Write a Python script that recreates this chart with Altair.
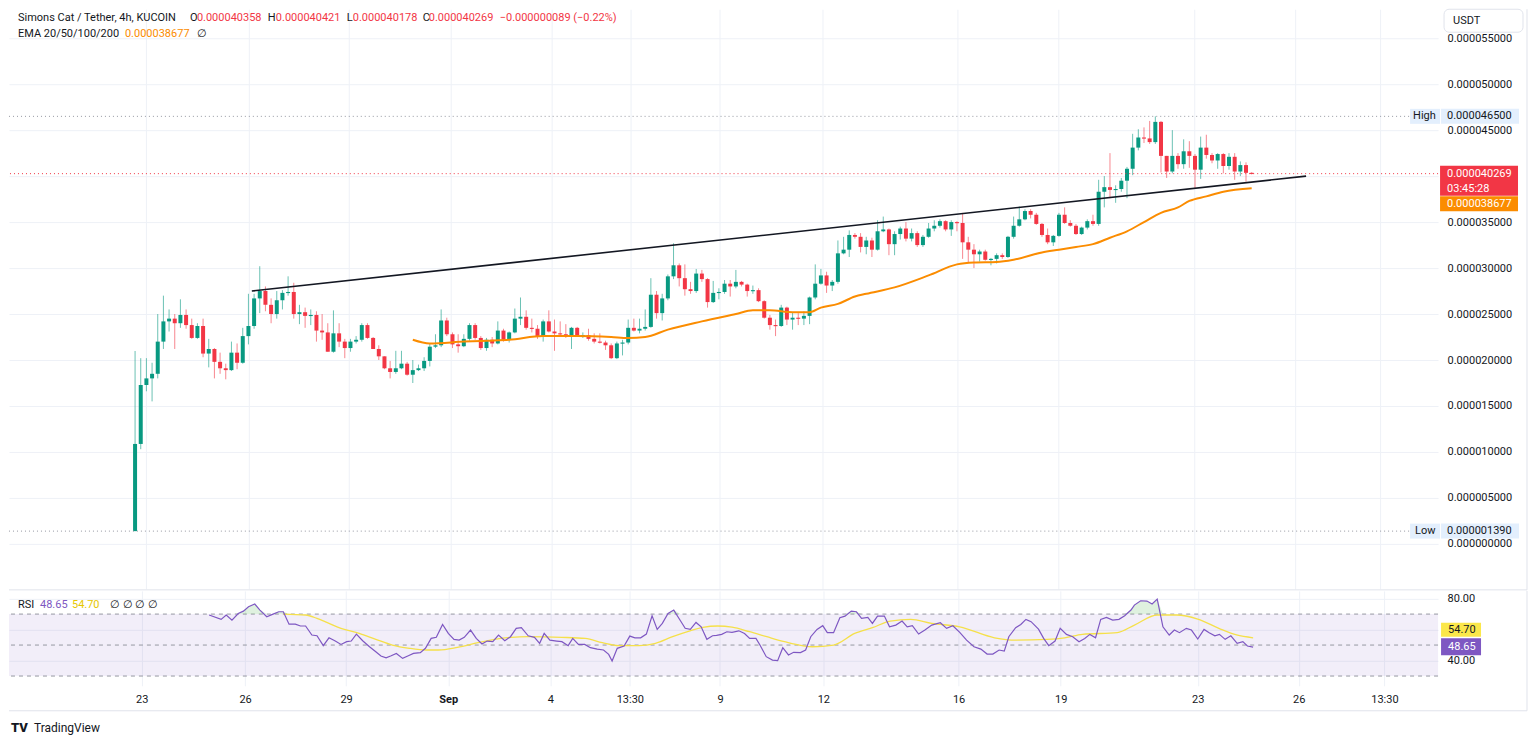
import altair as alt
import pandas as pd
import numpy as np

# ---------------- data (prices in units of 1e-6 USDT) ----------------
opens = [1.39,10.87,17.28,18.0,18.5,22.0,24.2,24.5,24.0,24.9,
 23.8,22.4,23.7,20.7,21.2,19.8,19.1,18.9,20.8,19.7,
 22.6,23.7,26.7,27.5,26.0,25.0,26.5,27.3,27.4,25.0,
 25.2,24.8,24.9,23.2,23.0,20.9,22.9,22.0,21.3,22.0,
 22.2,23.8,22.4,21.2,20.4,19.1,18.7,19.1,19.6,18.4,
 18.9,19.1,19.9,21.45,21.6,24.3,22.8,21.7,21.5,22.3,
 23.8,22.4,21.3,22.2,21.8,23.2,22.2,23.0,24.5,24.7,
 23.5,23.4,22.5,24.2,23.1,22.9,22.8,22.6,23.5,22.6,
 22.7,22.3,22.0,21.9,21.6,20.2,21.8,21.9,23.5,23.2,
 23.4,23.6,27.1,25.1,26.7,29.1,30.3,28.9,27.7,27.5,
 29.4,28.8,26.3,27.3,27.4,28.3,28.0,28.5,28.2,27.5,
 27.6,26.4,24.6,23.8,23.7,25.7,24.4,24.6,24.5,24.8,
 26.8,28.3,29.2,28.1,28.5,31.6,32.0,33.6,33.4,32.3,
 33.0,32.0,34.0,34.2,32.6,33.7,34.3,33.2,33.8,32.5,
 33.4,34.3,34.6,35.1,34.2,35.0,34.9,32.8,32.0,31.5,
 31.8,30.9,31.0,31.4,31.2,33.4,34.6,35.3,36.2,35.8,
 34.8,33.6,32.8,33.5,35.8,34.9,34.6,33.7,34.4,35.1,
 34.8,38.3,38.8,38.5,38.6,39.5,40.8,43.1,44.2,44.1,
 43.7,45.9,42.2,40.5,42.2,41.3,42.7,42.2,40.7,43.1,
 42.3,41.7,42.4,41.1,42.1,40.5,41.2,40.358]
highs = [20.98,20.2,20.2,19.7,25.0,27.0,25.5,25.0,26.6,25.5,
 24.5,24.0,24.5,22.3,21.3,20.8,19.6,22.0,21.8,23.5,
 27.2,27.2,30.2,28.0,26.7,27.5,27.6,29.1,28.4,26.0,
 25.7,25.5,25.3,25.0,24.0,25.4,24.0,22.3,22.3,22.6,
 24.0,24.0,22.5,21.6,20.4,19.9,21.0,21.0,19.8,20.0,
 19.5,20.3,21.8,22.8,25.5,24.6,23.0,22.8,22.8,24.0,
 24.0,22.6,22.4,22.5,24.2,23.4,23.1,25.6,26.8,25.4,
 24.5,23.8,24.4,25.4,24.4,24.2,23.9,23.6,23.6,23.0,
 23.4,22.9,22.9,22.1,21.8,22.0,22.2,24.4,24.5,24.5,
 25.5,28.9,27.5,27.2,29.3,32.7,30.5,30.4,28.5,29.9,
 29.8,28.9,28.6,27.8,28.7,28.7,29.8,28.6,28.3,28.1,
 27.8,26.5,24.9,24.4,26.0,25.8,25.2,25.1,25.3,26.9,
 30.4,29.9,29.6,28.7,33.0,33.4,34.1,33.8,33.8,33.4,
 33.3,35.2,35.6,34.3,34.0,34.5,35.0,34.3,34.0,33.6,
 34.9,35.2,35.3,35.2,35.2,35.1,36.0,33.4,32.6,32.0,
 32.0,31.1,31.6,31.6,33.5,35.6,36.7,36.4,36.4,36.0,
 34.9,34.3,33.6,36.0,36.6,35.2,34.8,34.5,35.3,35.8,
 39.6,40.0,42.5,39.0,39.8,41.0,44.6,45.1,45.3,46.0,
 46.5,46.0,42.2,45.0,42.5,44.0,43.8,42.4,44.3,44.5,
 42.5,42.5,42.5,42.5,42.5,41.6,41.5,40.421]
lows = [1.39,10.3,16.6,15.5,18.0,21.2,23.1,21.2,23.5,23.4,
 22.3,22.3,20.3,19.2,18.0,18.5,17.9,18.8,19.0,19.6,
 21.7,23.4,25.1,25.3,24.0,24.5,25.5,27.0,24.5,23.9,
 23.5,23.8,22.0,22.2,20.9,20.8,21.4,20.2,20.9,21.8,
 22.0,22.3,21.2,20.0,19.0,18.0,18.5,19.0,18.3,17.5,
 18.8,18.8,19.3,21.3,21.4,22.6,21.3,20.8,21.4,22.1,
 22.2,21.1,21.0,21.4,21.7,22.0,21.9,22.9,23.8,23.3,
 23.0,22.3,22.0,23.0,21.0,22.6,22.4,21.2,22.5,22.4,
 22.1,21.8,21.8,21.1,20.1,20.1,20.5,21.7,23.1,22.9,
 23.2,23.5,24.5,24.3,26.5,28.8,28.0,27.0,27.2,27.3,
 28.5,25.7,26.2,26.6,27.2,26.9,27.8,28.0,26.9,27.2,
 26.3,24.5,23.3,22.6,23.6,23.8,23.3,23.8,23.8,23.9,
 26.6,28.2,27.3,27.5,28.3,31.5,31.2,33.2,31.7,31.5,
 31.2,31.9,33.9,31.4,31.4,33.1,32.9,32.9,32.3,32.3,
 33.3,34.0,34.4,34.0,33.5,34.0,31.0,30.6,30.0,30.7,
 30.8,30.3,30.5,31.0,31.1,33.2,34.5,35.2,35.4,34.7,
 33.4,32.6,32.4,33.4,34.8,34.5,33.6,33.6,34.2,34.6,
 34.6,36.6,37.6,37.1,38.3,37.6,40.1,42.8,43.6,43.5,
 43.5,40.4,39.8,40.3,40.8,40.8,40.9,38.6,39.7,41.9,
 41.4,40.8,40.3,40.7,39.6,40.0,39.4,40.178]
closes = [10.87,17.28,18.0,18.5,22.0,24.2,24.5,24.0,24.9,23.8,
 22.4,23.7,20.7,21.2,19.8,19.1,18.9,20.8,19.7,22.6,
 23.7,26.7,27.5,26.0,25.0,26.5,27.3,27.4,25.0,25.2,
 24.8,24.9,23.2,23.0,20.9,22.9,22.0,21.3,22.0,22.2,
 23.8,22.4,21.2,20.4,19.1,18.7,19.1,19.6,18.4,18.9,
 19.1,19.9,21.45,21.6,24.3,22.8,21.7,21.5,22.3,23.8,
 22.4,21.3,22.2,21.8,23.2,22.2,23.0,24.5,24.7,23.5,
 23.4,22.5,24.2,23.1,22.9,22.8,22.6,23.5,22.6,22.7,
 22.3,22.0,21.9,21.6,20.2,21.8,21.9,23.5,23.2,23.4,
 23.6,27.1,25.1,26.7,29.1,30.3,28.9,27.7,27.5,29.4,
 28.8,26.3,27.3,27.4,28.3,28.0,28.5,28.2,27.5,27.6,
 26.4,24.6,23.8,23.7,25.7,24.4,24.6,24.5,24.8,26.8,
 28.3,29.2,28.1,28.5,31.6,32.0,33.6,33.4,32.3,33.0,
 32.0,34.0,34.2,32.6,33.7,34.3,33.2,33.8,32.5,33.4,
 34.3,34.6,35.1,34.2,35.0,34.9,32.8,32.0,31.5,31.8,
 30.9,31.0,31.4,31.2,33.4,34.6,35.3,36.2,35.8,34.8,
 33.6,32.8,33.5,35.8,34.9,34.6,33.7,34.4,35.1,34.8,
 38.3,38.8,38.5,38.6,39.5,40.8,43.1,44.2,44.1,43.7,
 45.9,42.2,40.5,42.2,41.3,42.7,42.2,40.7,43.1,42.3,
 41.7,42.4,41.1,42.1,40.5,41.2,40.358,40.269]

ema_points = [(49,22.2),(52,21.8),(58,22.0),(62,22.1),(66,22.2),(72,22.6),(78,22.6),(84,22.5),
 (87,22.4),(90,22.5),(94,23.3),(100,24.2),(106,25.0),(109,25.4),(112,25.4),(116,25.2),(119,25.2),
 (121,25.7),(124,26.1),(127,26.9),(129,27.2),(134,27.9),(140,29.2),(145,30.4),(148,30.6),(152,30.65),
 (155,30.9),(160,31.7),(163,32.0),(166,32.3),(169,32.6),(172,33.3),(175,34.0),(178,35.0),(181,36.0),
 (184,36.6),(186,37.3),(189,37.8),(192,38.3),(197,38.677)]

rsi_points = [(13.7,69.4),(15.8,66.6),(16.7,69.4),(17.7,66.1),(18.8,70.4),(19.7,71.9),(20.6,74.7),
 (21.7,76.5),(22.6,72.6),(23.8,68.3),(24.9,70.0),(25.9,71.5),(26.7,71.5),(27.7,63.5),(28.8,63.5),
 (29.7,62.3),(30.6,62.3),(31.7,56.5),(32.6,56.0),(33.7,49.6),(34.7,54.7),(35.8,52.6),(36.8,50.4),
 (37.8,52.2),(38.6,52.6),(39.5,57.1),(40.6,52.8),(41.8,48.9),(42.9,45.7),(43.8,42.9),(44.7,41.8),
 (45.6,43.1),(46.5,44.6),(47.6,41.4),(48.6,43.1),(49.5,44.6),(50.7,45.1),(51.6,47.9),(52.6,54.3),
 (53.5,55.0),(54.6,63.3),(55.6,57.5),(56.6,53.7),(57.5,53.2),(58.4,55.0),(59.5,59.7),(60.5,54.3),
 (61.5,50.7),(62.4,52.6),(63.4,52.2),(64.4,56.5),(65.5,52.8),(66.5,55.4),(67.5,60.8),(68.4,61.2),
 (69.6,56.0),(70.7,55.0),(71.6,51.1),(72.4,57.5),(73.4,53.2),(74.6,52.6),(75.5,52.2),(76.6,49.6),
 (77.4,54.3),(78.4,50.4),(79.5,50.4),(80.5,48.3),(81.7,47.4),(82.8,46.8),(83.7,44.0),(84.3,39.7),
 (85.2,47.9),(86.4,49.4),(87.4,55.8),(88.3,54.7),(89.3,54.7),(90.3,57.1),(91.3,68.9),(92.2,60.1),
 (93.1,64.0),(94.1,70.4),(95.1,72.6),(96.3,65.5),(97.1,60.8),(98.0,60.1),(99.0,64.6),(99.9,61.8),
 (100.9,53.7),(101.9,56.0),(102.6,56.2),(103.5,56.9),(104.4,58.6),(105.3,58.2),(106.5,59.2),
 (107.5,57.5),(108.4,54.3),(109.5,54.3),(110.2,50.0),(111.3,42.5),(112.4,40.3),(113.3,39.9),
 (114.2,48.3),(115.2,43.6),(116.1,45.3),(117.3,45.1),(118.2,46.8),(119.1,55.4),(120.2,60.1),
 (121.2,62.5),(122.0,58.0),(123.1,58.0),(124.2,67.6),(125.1,68.7),(126.2,71.9),(127.1,71.5),
 (128.0,67.2),(129.1,67.9),(129.9,64.0),(130.8,68.7),(132.0,68.7),(132.9,61.8),(134.0,62.9),
 (135.1,65.5),(136.0,61.8),(136.9,62.5),(138.0,57.1),(139.1,59.7),(140.3,62.9),(141.8,64.4),
 (142.9,60.8),(144.0,62.5),(145.2,58.2),(146.4,53.2),(147.7,48.9),(148.9,47.4),(150.0,44.2),
 (151.0,44.2),(152.1,46.8),(153.0,46.1),(153.8,55.4),(155.0,61.2),(155.9,63.3),(156.8,66.6),
 (157.7,65.1),(159.0,60.3),(159.9,54.3),(160.8,49.6),(161.9,52.6),(162.8,60.8),(163.9,56.9),
 (165.0,55.4),(166.1,52.2),(167.1,54.3),(168.0,56.9),(169.0,54.7),(169.9,66.6),(170.9,67.9),
 (172.0,66.1),(173.1,66.6),(174.1,68.9),(175.2,72.6),(175.8,75.8),(176.9,78.6),(178.0,78.4),
 (178.9,76.5),(179.8,79.7),(180.8,61.8),(181.9,56.5),(182.8,59.7),(183.7,58.0),(184.9,60.8),
 (185.8,59.7),(186.9,53.9),(188.0,60.1),(188.9,58.0),(189.9,56.0),(190.7,56.9),(191.7,53.7),
 (192.7,56.0),(193.8,51.1),(194.8,52.2),(195.6,49.4),(196.6,48.65)]

rsi_ma_points = [(26.7,70.0),(30.6,69.4),(32.6,67.2),(34.7,64.0),(36.8,60.8),(40.0,57.5),(42.9,53.7),
 (45.8,50.0),(48.8,47.9),(51.8,46.8),(53.9,46.8),(57.2,48.5),(60.8,51.5),(63.7,53.7),(66.6,55.0),
 (69.6,55.4),(75.5,55.0),(79.6,54.3),(82.6,51.5),(85.5,49.6),(89.0,49.6),(91.9,51.1),(94.9,55.4),
 (97.8,59.0),(100.2,61.4),(102.8,62.3),(105.3,61.6),(108.4,58.6),(111.4,55.4),(114.5,52.2),
 (117.6,49.6),(119.4,48.9),(123.1,50.0),(126.8,57.5),(129.9,61.2),(133.0,65.5),(136.6,66.6),
 (140.3,64.0),(145.2,61.8),(151.3,54.7),(155.0,53.2),(160.5,53.7),(163.6,54.7),(166.7,56.9),
 (172.8,58.0),(175.8,62.9),(179.8,69.4),(183.2,69.4),(186.9,66.8),(190.6,60.8),(193.7,56.5),
 (196.6,54.7)]

trend_points = [(20.6, 27.5), (206.6, 40.0)]

tick_pos = [1.9, 20, 37.7, 55.6, 73.5, 87.4, 103.2, 121.3, 145, 162.9, 186.9, 204.6, 219.6]
tick_lab = ["23", "26", "29", "Sep", "4", "13:30", "9", "12", "16", "19", "23", "26", "13:30"]
price_ticks = [0, 5, 10, 15, 20, 25, 30, 35, 40, 45, 50, 55]
rsi_ticks = [40, 60, 80]
rsi_levels = [70, 50, 30]

last_price = 40.269
ema_last = 38.677
high_price = 46.5
low_price = 1.39
rsi_last = 48.65
rsi_ma_last = 54.70
countdown = "03:45:28"
quote_ccy = "USDT"
title_main = "Simons Cat / Tether, 4h, KUCOIN"
ohlc_letters = ["O", "H", "L", "C"]
ohlc_texts = ["0.000040358", "0.000040421", "0.000040178", "0.000040269"]
change_text = "\u22120.000000089 (\u22120.22%)"
ema_title = "EMA 20/50/100/200"
ema_text = "0.000038677"

# ---------------- layout / style ----------------
W, HM, HR = 1430, 580, 95
X_DOM = [-21.36, 229.0]
Y_DOM = [-4.89, 58.15]
R_DOM = [23.7, 85.0]
FONT = "Roboto"
DARK = "#131722"
UP, DOWN = "#089981", "#f23645"
ORANGE = "#fb8c00"
PURPLE = "#7e57c2"
YELLOW_LINE = "#f5e04a"
YELLOW_BOX = "#fbe74a"
GRID = "#eef1f7"
BORDER = "#e0e3eb"
TAG_BLUE = "#e3effd"
HF = 11     # header font size
AF = 11     # axis / tag font size
ONE = pd.DataFrame({"k": [0]})

# shared axes (identical objects in every layer so Vega-Lite merges them)
AX_X_MAIN = alt.Axis(values=tick_pos, labels=False, ticks=False, domain=False, grid=True,
                     gridColor=GRID, title="")
AX_Y_MAIN = alt.Axis(orient="right", values=price_ticks, ticks=False, domain=False, grid=True,
                     gridColor=GRID, title="", labelPadding=9, labelFont=FONT, labelFontSize=AF,
                     labelColor=DARK, labelOverlap=False,
                     labelExpr="datum.value == 40 ? '' : format(datum.value / 1000000, '.9f')")
AX_X_RSI = alt.Axis(values=tick_pos, ticks=False, domain=False, grid=True, gridColor=GRID,
                    title="", labelPadding=8, labelFont=FONT, labelFontSize=AF,
                    labelColor=DARK, labelOverlap=False, labelFlush=False,
                    labelExpr="[" + ",".join("'%s'" % t for t in tick_lab) + "][indexof(["
                              + ",".join(str(p) for p in tick_pos) + "], datum.value)]",
                    labelFontWeight={"condition": {"test": "datum.value == 55.6", "value": "bold"},
                                     "value": "normal"})
AX_Y_RSI = alt.Axis(orient="right", values=rsi_ticks, ticks=False, domain=False, grid=True,
                    gridColor=GRID, title="", labelPadding=9, labelFont=FONT, labelFontSize=AF,
                    labelColor=DARK, labelOverlap=False,
                    labelExpr="datum.value == 60 ? '' : format(datum.value, '.2f')")

def mx(f):
    return alt.X(f, type="quantitative", scale=alt.Scale(domain=X_DOM, nice=False, zero=False), axis=AX_X_MAIN)

def my(f):
    return alt.Y(f, type="quantitative", scale=alt.Scale(domain=Y_DOM, nice=False, zero=False), axis=AX_Y_MAIN)

def rx(f):
    return alt.X(f, type="quantitative", scale=alt.Scale(domain=X_DOM, nice=False, zero=False), axis=AX_X_RSI)

def ry(f):
    return alt.Y(f, type="quantitative", scale=alt.Scale(domain=R_DOM, nice=False, zero=False), axis=AX_Y_RSI)

def txt(s, x, y, color=DARK, size=HF, weight="normal"):
    return alt.Chart(ONE).mark_text(text=s, align="left", baseline="middle", font=FONT,
                                    fontSize=size, fontWeight=weight, color=color
                                    ).encode(x=alt.value(x), y=alt.value(y))

def tag_box(p, yenc, x1, x2, o1, o2, fill):
    return alt.Chart(pd.DataFrame({"p": [p]})).mark_rect(color=fill, yOffset=o1, y2Offset=o2).encode(
        x=alt.value(x1), x2=alt.value(x2), y=yenc("p"), y2="p:Q")

def tag_text(p, yenc, s, x, off, color):
    return alt.Chart(pd.DataFrame({"p": [p]})).mark_text(
        text=s, align="left", baseline="middle", font=FONT, fontSize=AF, color=color, yOffset=off
    ).encode(x=alt.value(x), y=yenc("p"))

# ---------------- candles ----------------
n = min(len(opens), len(highs), len(lows), len(closes))
cd = pd.DataFrame({"i": list(range(n)), "open": opens[:n], "high": highs[:n],
                   "low": lows[:n], "close": closes[:n]})
cd["dir"] = np.where(cd["close"] >= cd["open"], "up", "down")
cd["bt"] = cd[["open", "close"]].max(axis=1)
cd["bb"] = np.minimum(cd[["open", "close"]].min(axis=1), cd["bt"] - 0.12)

color_enc = alt.Color("dir:N", scale=alt.Scale(domain=["up", "down"], range=[UP, DOWN]), legend=None)

wicks = alt.Chart(cd).mark_rule(strokeWidth=1, opacity=0.6).encode(
    x=mx("i"), y=my("low"), y2="high:Q", color=color_enc)
bodies = alt.Chart(cd).mark_bar(size=4).encode(
    x=mx("i"), y=my("bb"), y2="bt:Q", color=color_enc)

ema_df = pd.DataFrame(ema_points, columns=["i", "v"])
ema_line = alt.Chart(ema_df).mark_line(color=ORANGE, strokeWidth=2, interpolate="monotone").encode(
    x=mx("i"), y=my("v"))

tr_df = pd.DataFrame(trend_points, columns=["i", "v"])
trend = alt.Chart(tr_df).mark_line(color=DARK, strokeWidth=1.6).encode(x=mx("i"), y=my("v"))

price_rule = alt.Chart(pd.DataFrame({"p": [last_price]})).mark_rule(
    color=DOWN, strokeDash=[1, 3], strokeWidth=1).encode(y=my("p"))
hl_rule = alt.Chart(pd.DataFrame({"p": [high_price, low_price]})).mark_rule(
    color="#9598a1", strokeDash=[1, 3], strokeWidth=1).encode(
    y=my("p"), x=alt.value(0), x2=alt.value(1402))

main_layers = [wicks, bodies, ema_line, trend, price_rule, hl_rule,
    tag_box(high_price, my, 1402, 1432, -7.5, 7.5, TAG_BLUE),
    tag_box(high_price, my, 1433, 1511, -7.5, 7.5, TAG_BLUE),
    tag_text(high_price, my, "High", 1405, 0, DARK),
    tag_text(high_price, my, format(high_price / 1e6, ".9f"), 1439, 0, DARK),
    tag_box(low_price, my, 1402, 1432, -7.5, 7.5, TAG_BLUE),
    tag_box(low_price, my, 1433, 1511, -7.5, 7.5, TAG_BLUE),
    tag_text(low_price, my, "Low", 1407, 0, DARK),
    tag_text(low_price, my, format(low_price / 1e6, ".9f"), 1439, 0, DARK),
    tag_box(last_price, my, 1432, 1510, -8, 22, DOWN),
    tag_text(last_price, my, format(last_price / 1e6, ".9f"), 1439, 0, "white"),
    tag_text(last_price, my, countdown, 1439, 15, "white"),
    tag_box(ema_last, my, 1432, 1510, 8, 23, ORANGE),
    tag_text(ema_last, my, format(ema_last / 1e6, ".9f"), 1439, 15.5, "white"),
    alt.Chart(ONE).mark_rect(fill="white", stroke=BORDER, strokeWidth=1, cornerRadius=5).encode(
        x=alt.value(1436), x2=alt.value(1515), y=alt.value(0), y2=alt.value(23)),
    txt(quote_ccy, 1445, 11.5, DARK, 11),
    txt(title_main, 9, 9),
]
hx_letters = [181, 259, 338, 414]
hx_values = [188, 267, 344, 420]
for lt, vt, lx, vx in zip(ohlc_letters, ohlc_texts, hx_letters, hx_values):
    main_layers.append(txt(lt, lx, 9))
    main_layers.append(txt(vt, vx, 9, DOWN))
main_layers += [
    txt(change_text, 491, 9, DOWN),
    txt(ema_title, 9, 25),
    txt(ema_text, 116, 25, ORANGE),
    txt("\u2205", 188, 25),
    alt.Chart(ONE).mark_rule(color=BORDER, strokeWidth=1).encode(
        x=alt.value(0), x2=alt.value(1519), y=alt.value(581)),
    alt.Chart(ONE).mark_rule(color=BORDER, strokeWidth=1).encode(
        x=alt.value(1519), y=alt.value(0), y2=alt.value(581)),
]
main = alt.layer(*main_layers).properties(width=W, height=HM)

# ---------------- RSI pane ----------------
rsi_df = pd.DataFrame(rsi_points, columns=["i", "r"])
ma_df = pd.DataFrame(rsi_ma_points, columns=["i", "r"])

band = alt.Chart(pd.DataFrame({"hi": [rsi_levels[0]], "lo": [rsi_levels[2]]})).mark_rect(
    color=PURPLE, opacity=0.1).encode(
    x=alt.value(0), x2=alt.value(W), y=ry("hi"), y2="lo:Q")
levels = alt.Chart(pd.DataFrame({"lv": rsi_levels})).mark_rule(
    color="#9598a1", strokeDash=[4, 4], strokeWidth=1).encode(y=ry("lv"))
over = alt.Chart(rsi_df).transform_calculate(top="max(datum.r, 70)", base="70").mark_area(
    color="#4caf50", opacity=0.18).encode(x=rx("i"), y=ry("top"), y2="base:Q")
ma_line = alt.Chart(ma_df).mark_line(color=YELLOW_LINE, strokeWidth=1.3, interpolate="monotone").encode(
    x=rx("i"), y=ry("r"))
rsi_line = alt.Chart(rsi_df).mark_line(color=PURPLE, strokeWidth=1.2).encode(x=rx("i"), y=ry("r"))

rsi_layers = [band, levels, over, ma_line, rsi_line,
    tag_box(rsi_ma_last, ry, 1433, 1473, -15, -1, YELLOW_BOX),
    tag_text(rsi_ma_last, ry, "%.2f" % rsi_ma_last, 1440, -8, DARK),
    tag_box(rsi_last, ry, 1433, 1473, -9, 8, PURPLE),
    tag_text(rsi_last, ry, "%.2f" % rsi_last, 1440, -0.5, "white"),
    txt("RSI", 9, 14),
    txt("%.2f" % rsi_last, 31, 14, PURPLE),
    txt("%.2f" % rsi_ma_last, 63, 14, "#e6c700"),
    txt("\u2205  \u2205  \u2205  \u2205", 101, 14),
    alt.Chart(ONE).mark_rule(color=BORDER, strokeWidth=1).encode(
        x=alt.value(0), x2=alt.value(1519), y=alt.value(120)),
    alt.Chart(ONE).mark_rule(color=BORDER, strokeWidth=1).encode(
        x=alt.value(1519), y=alt.value(0), y2=alt.value(120)),
    txt("TV", 2, 137, DARK, 13, 900),
    txt("TradingView", 25, 137, DARK, 12),
]
rsi = alt.layer(*rsi_layers).properties(width=W, height=HR)

chart = alt.vconcat(main, rsi, spacing=2, bounds="flush").properties(
    padding={"left": 0, "top": 0, "right": 0, "bottom": 0}, background="white"
).configure_view(stroke=None)

chart.save("out.html", embed_options={"renderer": "svg", "actions": False})
